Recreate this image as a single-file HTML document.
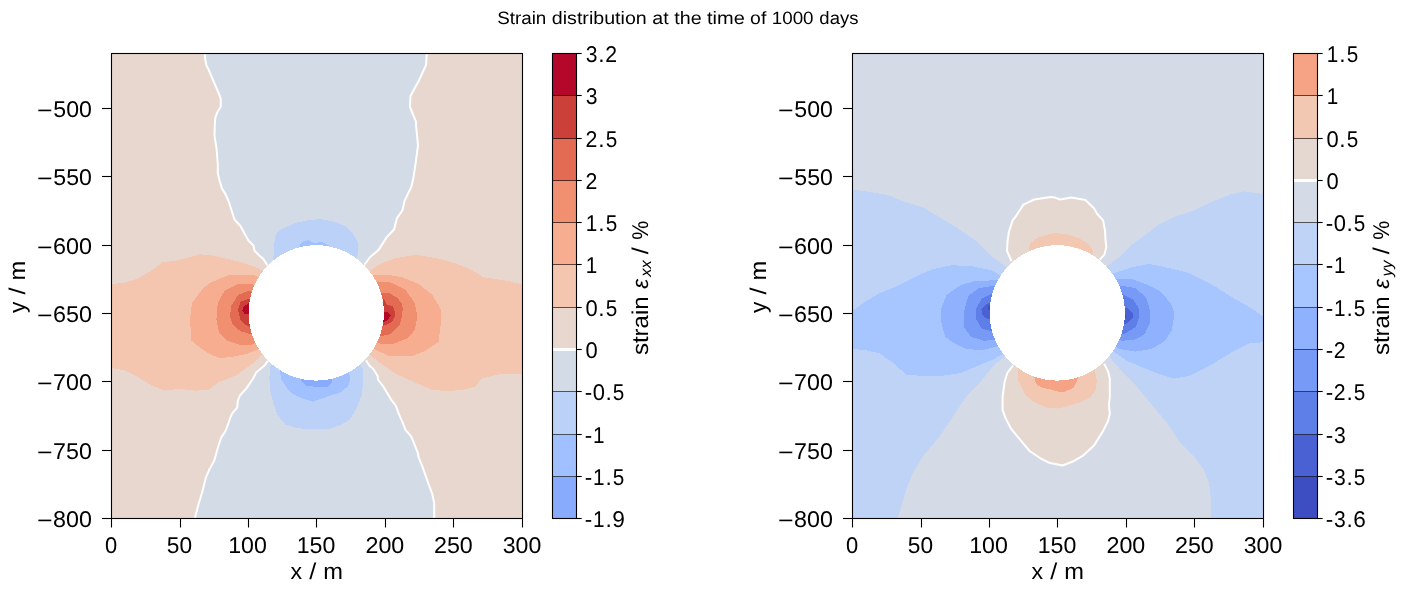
<!DOCTYPE html>
<html><head><meta charset="utf-8"><title>Strain distribution</title>
<style>html,body{margin:0;padding:0;background:#fff;} svg{display:block;will-change:transform;}</style></head>
<body>
<svg width="1409" height="592" viewBox="0 0 1409 592" font-family="Liberation Sans, sans-serif" text-rendering="geometricPrecision">
<rect width="1409" height="592" fill="#fff"/>
<text x="497.16" y="23.50" font-size="17.8" textLength="49.11" lengthAdjust="spacingAndGlyphs">Strain</text><text x="551.81" y="23.50" font-size="17.8" textLength="94.98" lengthAdjust="spacingAndGlyphs">distribution</text><text x="652.27" y="23.50" font-size="17.8" textLength="16.34" lengthAdjust="spacingAndGlyphs">at</text><text x="674.31" y="23.50" font-size="17.8" textLength="27.37" lengthAdjust="spacingAndGlyphs">the</text><text x="707.02" y="23.50" font-size="17.8" textLength="37.77" lengthAdjust="spacingAndGlyphs">time</text><text x="750.13" y="23.50" font-size="17.8" textLength="16.20" lengthAdjust="spacingAndGlyphs">of</text><text x="771.72" y="23.50" font-size="17.8" textLength="41.82" lengthAdjust="spacingAndGlyphs">1000</text><text x="819.38" y="23.50" font-size="17.8" textLength="39.05" lengthAdjust="spacingAndGlyphs">days</text>
<clipPath id="cl1"><rect x="111.5" y="53.5" width="411.0" height="465.0"/></clipPath>
<g clip-path="url(#cl1)">
<rect x="111.5" y="53.5" width="411.0" height="465.0" fill="#e7d7ce"/>
<path d="M204.6,50.0 L204.6,53.0 L205.5,61.0 L206.5,65.5 L208.5,69.5 L219.3,94.6 L220.7,98.6 L220.7,106.8 L217.3,112.2 L215.3,117.6 L214.8,125.0 L214.5,135.8 L216.5,148.0 L217.8,164.2 L217.8,173.6 L219.9,181.8 L221.9,188.5 L225.3,193.9 L228.5,201.0 L230.9,208.3 L234.5,219.5 L240.4,226.0 L248.6,240.8 L253.4,245.5 L254.6,250.8 L259.3,255.6 L263.4,259.1 L267.5,265.5 L316.2,312.9 L364.5,264.5 L370.2,257.0 L378.4,250.1 L386.6,237.4 L394.2,229.2 L396.8,218.4 L402.5,210.2 L404.4,201.3 L408.5,192.6 L411.2,187.2 L413.2,179.0 L415.3,165.5 L418.0,145.3 L416.0,125.0 L416.0,121.6 L413.2,114.9 L409.9,106.8 L410.5,95.9 L419.3,79.7 L426.1,64.9 L426.8,53.0 L426.8,50.0 Z" fill="#d3dbe7" shape-rendering="crispEdges"/>
<path d="M316.2,312.9 L268.0,360.8 L264.2,365.8 L256.1,372.6 L253.4,378.0 L246.6,388.1 L239.9,395.5 L237.8,400.9 L237.2,407.7 L232.4,413.1 L230.4,417.2 L227.7,425.3 L225.5,431.0 L221.2,437.6 L218.1,446.7 L214.3,460.4 L209.0,470.3 L206.0,477.1 L202.2,492.3 L198.4,504.5 L195.3,516.6 L194.9,518.5 L194.9,521.0 L434.2,521.0 L434.2,518.5 L434.2,503.0 L432.2,493.8 L427.7,481.7 L422.4,466.5 L418.6,457.4 L417.8,452.8 L414.8,445.2 L411.0,436.1 L405.6,430.0 L403.2,423.9 L398.5,413.1 L395.8,405.7 L391.1,399.6 L383.0,386.1 L378.2,380.0 L377.6,376.0 L373.5,369.2 L369.5,365.8 L366.0,360.3 Z" fill="#d3dbe7" shape-rendering="crispEdges"/>
<path d="M273.3,259.3 L274.8,238.0 L277.8,231.2 L285.4,227.4 L296.1,222.8 L306.7,220.5 L320.4,219.0 L335.6,222.1 L346.3,226.6 L353.9,235.0 L358.4,244.1 L358.4,251.7 L356.9,257.8 L316.2,312.9 Z" fill="#bbd1f8" shape-rendering="crispEdges"/>
<path d="M299.1,246.4 L302.1,241.8 L308.2,240.3 L314.3,243.3 L320.4,241.8 L325.0,243.3 L329.5,245.6 L316.2,312.9 Z" fill="#a1c0ff" shape-rendering="crispEdges"/>
<path d="M270.2,366.7 L269.4,377.4 L270.2,391.1 L273.3,403.2 L277.8,415.4 L285.4,424.5 L297.6,428.3 L312.8,429.1 L328.0,429.1 L340.2,425.3 L349.3,420.0 L355.4,410.8 L361.5,395.6 L363.3,380.4 L363.0,368.3 L316.2,312.9 Z" fill="#bbd1f8" shape-rendering="crispEdges"/>
<path d="M280.1,370.5 L280.9,378.9 L286.9,388.0 L293.0,394.1 L300.6,397.9 L312.8,401.7 L321.9,398.7 L329.5,395.6 L340.2,392.6 L347.8,386.5 L350.1,380.4 L349.3,372.8 L316.2,312.9 Z" fill="#a1c0ff" shape-rendering="crispEdges"/>
<path d="M300.6,379.7 L306.7,385.7 L312.8,386.5 L320.4,386.5 L328.0,386.5 L332.6,381.9 L316.2,312.9 Z" fill="#88abfd" shape-rendering="crispEdges"/>
<path d="M109.0,284.1 L111.0,284.1 L124.5,282.7 L138.0,278.6 L151.5,270.5 L162.4,262.4 L178.6,260.3 L192.1,256.5 L200.2,254.3 L213.7,255.7 L224.5,258.4 L240.7,261.9 L254.2,266.5 L262.4,270.5 L264.0,272.0 L316.2,312.9 L370.1,270.5 L378.2,265.1 L394.4,258.4 L416.1,254.9 L437.7,258.4 L456.6,263.8 L472.8,270.5 L483.6,277.3 L502.5,280.0 L522.0,284.1 L525.0,284.1 L525.0,374.4 L522.0,374.4 L500.2,373.8 L482.4,378.5 L474.1,387.0 L462.3,390.0 L445.7,391.2 L431.5,389.5 L415.0,382.5 L395.4,373.7 L378.5,361.9 L370.1,355.1 L316.2,312.9 L261.2,355.1 L252.8,363.6 L235.9,375.4 L219.0,382.1 L208.9,389.6 L195.4,390.6 L178.5,388.9 L165.0,390.6 L151.5,385.5 L138.0,377.1 L124.5,370.3 L111.0,368.0 L109.0,368.0 Z" fill="#f4c6af" shape-rendering="crispEdges"/>
<path d="M254.2,274.8 L240.0,275.0 L228.0,275.5 L219.0,279.0 L210.0,283.0 L202.9,288.5 L192.1,303.0 L189.9,319.2 L191.5,340.7 L200.0,347.5 L209.2,353.7 L218.7,357.8 L229.3,357.4 L247.1,353.9 L257.7,349.5 L316.2,312.9 Z" fill="#f7ad90" shape-rendering="crispEdges"/>
<path d="M251.5,284.0 L238.0,284.0 L224.5,290.8 L217.8,303.0 L216.4,319.2 L219.1,332.7 L227.2,340.8 L240.7,344.9 L251.5,344.9 L316.2,312.9 Z" fill="#f18f71" shape-rendering="crispEdges"/>
<path d="M248.8,290.8 L238.0,294.9 L231.3,305.7 L229.9,316.5 L232.6,324.6 L240.7,331.4 L250.2,334.0 L316.2,312.9 Z" fill="#e36b54" shape-rendering="crispEdges"/>
<path d="M248.8,298.9 L240.7,301.6 L238.0,309.7 L240.2,319.2 L244.8,324.6 L249.4,326.8 L316.2,312.9 Z" fill="#cc403a" shape-rendering="crispEdges"/>
<path d="M248.8,303.0 L243.4,307.0 L242.1,311.0 L244.8,313.8 L249.4,314.3 L316.2,312.9 Z" fill="#b5072a" shape-rendering="crispEdges"/>
<path d="M374.2,274.6 L386.3,274.6 L402.5,277.3 L418.8,284.0 L432.3,294.9 L440.4,308.4 L441.5,318.0 L439.5,334.0 L438.6,342.0 L426.0,350.5 L414.0,355.5 L388.0,355.5 L376.0,350.0 L316.2,312.9 Z" fill="#f7ad90" shape-rendering="crispEdges"/>
<path d="M378.2,281.4 L391.7,282.7 L405.2,289.5 L414.7,303.0 L417.4,316.5 L414.7,330.0 L408.0,338.1 L394.4,343.5 L379.6,343.5 L316.2,312.9 Z" fill="#f18f71" shape-rendering="crispEdges"/>
<path d="M381.6,292.9 L389.9,293.4 L397.4,298.0 L402.0,303.6 L402.9,309.1 L401.1,320.3 L400.1,324.0 L394.6,329.6 L389.9,334.2 L381.6,336.1 L316.2,312.9 Z" fill="#e36b54" shape-rendering="crispEdges"/>
<path d="M383.4,298.5 L387.1,304.5 L392.7,306.4 L394.6,311.0 L394.6,316.6 L392.7,321.2 L388.1,324.0 L383.4,325.9 L316.2,312.9 Z" fill="#cc403a" shape-rendering="crispEdges"/>
<path d="M383.4,311.9 L387.1,311.9 L390.9,315.2 L388.1,319.4 L384.4,322.1 L316.2,312.9 Z" fill="#b5072a" shape-rendering="crispEdges"/>
<circle cx="316.2" cy="312.9" r="67.7" fill="#fff" shape-rendering="crispEdges"/>
<path d="M204.6,53.0 L205.5,61.0 L206.5,65.5 L208.5,69.5 L219.3,94.6 L220.7,98.6 L220.7,106.8 L217.3,112.2 L215.3,117.6 L214.8,125.0 L214.5,135.8 L216.5,148.0 L217.8,164.2 L217.8,173.6 L219.9,181.8 L221.9,188.5 L225.3,193.9 L228.5,201.0 L230.9,208.3 L234.5,219.5 L240.4,226.0 L248.6,240.8 L253.4,245.5 L254.6,250.8 L259.3,255.6 L263.4,259.1 L267.5,265.5" fill="none" stroke="#fff" stroke-width="2.0" stroke-linejoin="round"/>
<path d="M364.5,264.5 L370.2,257.0 L378.4,250.1 L386.6,237.4 L394.2,229.2 L396.8,218.4 L402.5,210.2 L404.4,201.3 L408.5,192.6 L411.2,187.2 L413.2,179.0 L415.3,165.5 L418.0,145.3 L416.0,125.0 L416.0,121.6 L413.2,114.9 L409.9,106.8 L410.5,95.9 L419.3,79.7 L426.1,64.9 L426.8,53.0" fill="none" stroke="#fff" stroke-width="2.0" stroke-linejoin="round"/>
<path d="M268.0,360.8 L264.2,365.8 L256.1,372.6 L253.4,378.0 L246.6,388.1 L239.9,395.5 L237.8,400.9 L237.2,407.7 L232.4,413.1 L230.4,417.2 L227.7,425.3 L225.5,431.0 L221.2,437.6 L218.1,446.7 L214.3,460.4 L209.0,470.3 L206.0,477.1 L202.2,492.3 L198.4,504.5 L195.3,516.6 L194.9,518.5" fill="none" stroke="#fff" stroke-width="2.0" stroke-linejoin="round"/>
<path d="M366.0,360.3 L369.5,365.8 L373.5,369.2 L377.6,376.0 L378.2,380.0 L383.0,386.1 L391.1,399.6 L395.8,405.7 L398.5,413.1 L403.2,423.9 L405.6,430.0 L411.0,436.1 L414.8,445.2 L417.8,452.8 L418.6,457.4 L422.4,466.5 L427.7,481.7 L432.2,493.8 L434.2,503.0 L434.2,518.5" fill="none" stroke="#fff" stroke-width="2.0" stroke-linejoin="round"/>
</g>
<rect x="111.5" y="53.5" width="411.0" height="465.0" fill="none" stroke="#000" stroke-width="1.1"/>
<line x1="111.5" y1="518.5" x2="111.5" y2="527.5" stroke="#000" stroke-width="1.1"/>
<text x="104.88" y="552.90" font-size="22.8" textLength="12.21" lengthAdjust="spacingAndGlyphs">0</text>
<line x1="180.5" y1="518.5" x2="180.5" y2="527.5" stroke="#000" stroke-width="1.1"/>
<text x="166.85" y="552.90" font-size="22.8" textLength="25.25" lengthAdjust="spacingAndGlyphs">50</text>
<line x1="248.5" y1="518.5" x2="248.5" y2="527.5" stroke="#000" stroke-width="1.1"/>
<text x="228.22" y="552.90" font-size="22.8" textLength="38.68" lengthAdjust="spacingAndGlyphs">100</text>
<line x1="316.5" y1="518.5" x2="316.5" y2="527.5" stroke="#000" stroke-width="1.1"/>
<text x="296.72" y="552.90" font-size="22.8" textLength="38.68" lengthAdjust="spacingAndGlyphs">150</text>
<line x1="385.5" y1="518.5" x2="385.5" y2="527.5" stroke="#000" stroke-width="1.1"/>
<text x="365.43" y="552.90" font-size="22.8" textLength="38.88" lengthAdjust="spacingAndGlyphs">200</text>
<line x1="453.5" y1="518.5" x2="453.5" y2="527.5" stroke="#000" stroke-width="1.1"/>
<text x="433.93" y="552.90" font-size="22.8" textLength="38.88" lengthAdjust="spacingAndGlyphs">250</text>
<line x1="522.5" y1="518.5" x2="522.5" y2="527.5" stroke="#000" stroke-width="1.1"/>
<text x="502.69" y="552.90" font-size="22.8" textLength="38.56" lengthAdjust="spacingAndGlyphs">300</text>
<line x1="102.0" y1="518.5" x2="111.5" y2="518.5" stroke="#000" stroke-width="1.1"/>
<text x="36.91" y="527.80" font-size="22.8" textLength="15.59" lengthAdjust="spacingAndGlyphs">−</text><text x="53.01" y="527.00" font-size="22.8" textLength="38.88" lengthAdjust="spacingAndGlyphs">800</text>
<line x1="102.0" y1="450.5" x2="111.5" y2="450.5" stroke="#000" stroke-width="1.1"/>
<text x="36.91" y="459.80" font-size="22.8" textLength="15.59" lengthAdjust="spacingAndGlyphs">−</text><text x="53.10" y="459.00" font-size="22.8" textLength="38.78" lengthAdjust="spacingAndGlyphs">750</text>
<line x1="102.0" y1="381.5" x2="111.5" y2="381.5" stroke="#000" stroke-width="1.1"/>
<text x="36.91" y="390.80" font-size="22.8" textLength="15.59" lengthAdjust="spacingAndGlyphs">−</text><text x="53.10" y="390.00" font-size="22.8" textLength="38.78" lengthAdjust="spacingAndGlyphs">700</text>
<line x1="102.0" y1="313.5" x2="111.5" y2="313.5" stroke="#000" stroke-width="1.1"/>
<text x="36.91" y="322.80" font-size="22.8" textLength="15.59" lengthAdjust="spacingAndGlyphs">−</text><text x="52.90" y="322.00" font-size="22.8" textLength="38.99" lengthAdjust="spacingAndGlyphs">650</text>
<line x1="102.0" y1="245.5" x2="111.5" y2="245.5" stroke="#000" stroke-width="1.1"/>
<text x="36.91" y="254.80" font-size="22.8" textLength="15.59" lengthAdjust="spacingAndGlyphs">−</text><text x="52.90" y="254.00" font-size="22.8" textLength="38.99" lengthAdjust="spacingAndGlyphs">600</text>
<line x1="102.0" y1="176.5" x2="111.5" y2="176.5" stroke="#000" stroke-width="1.1"/>
<text x="36.91" y="185.80" font-size="22.8" textLength="15.59" lengthAdjust="spacingAndGlyphs">−</text><text x="53.32" y="185.00" font-size="22.8" textLength="38.56" lengthAdjust="spacingAndGlyphs">550</text>
<line x1="102.0" y1="108.5" x2="111.5" y2="108.5" stroke="#000" stroke-width="1.1"/>
<text x="36.91" y="117.80" font-size="22.8" textLength="15.59" lengthAdjust="spacingAndGlyphs">−</text><text x="53.32" y="117.00" font-size="22.8" textLength="38.56" lengthAdjust="spacingAndGlyphs">500</text>
<text x="290.59" y="578.60" font-size="22.8" textLength="11.61" lengthAdjust="spacingAndGlyphs">x</text><text x="309.22" y="578.60" font-size="22.8" textLength="7.04" lengthAdjust="spacingAndGlyphs">/</text><text x="323.19" y="578.60" font-size="22.8" textLength="19.70" lengthAdjust="spacingAndGlyphs">m</text>
<g transform="translate(25.0,312.8) rotate(-90)"><text x="-0.10" y="0.00" font-size="22.8" textLength="11.30" lengthAdjust="spacingAndGlyphs">y</text><text x="18.32" y="0.00" font-size="22.8" textLength="7.04" lengthAdjust="spacingAndGlyphs">/</text><text x="32.29" y="0.00" font-size="22.8" textLength="19.70" lengthAdjust="spacingAndGlyphs">m</text></g>
<rect x="552.5" y="53.50" width="24.0" height="42.50" fill="#b5072a" shape-rendering="crispEdges"/>
<rect x="552.5" y="95.50" width="24.0" height="43.50" fill="#cc403a" shape-rendering="crispEdges"/>
<rect x="552.5" y="138.50" width="24.0" height="42.50" fill="#e36b54" shape-rendering="crispEdges"/>
<rect x="552.5" y="180.50" width="24.0" height="42.50" fill="#f18f71" shape-rendering="crispEdges"/>
<rect x="552.5" y="222.50" width="24.0" height="42.50" fill="#f7ad90" shape-rendering="crispEdges"/>
<rect x="552.5" y="264.50" width="24.0" height="43.50" fill="#f4c6af" shape-rendering="crispEdges"/>
<rect x="552.5" y="307.50" width="24.0" height="42.50" fill="#e7d7ce" shape-rendering="crispEdges"/>
<rect x="552.5" y="349.50" width="24.0" height="42.50" fill="#d3dbe7" shape-rendering="crispEdges"/>
<rect x="552.5" y="391.50" width="24.0" height="43.50" fill="#bbd1f8" shape-rendering="crispEdges"/>
<rect x="552.5" y="434.50" width="24.0" height="42.50" fill="#a1c0ff" shape-rendering="crispEdges"/>
<rect x="552.5" y="476.50" width="24.0" height="42.50" fill="#88abfd" shape-rendering="crispEdges"/>
<line x1="552.5" y1="95.5" x2="576.5" y2="95.5" stroke="#000" stroke-opacity="0.62" stroke-width="1"/>
<line x1="552.5" y1="138.5" x2="576.5" y2="138.5" stroke="#000" stroke-opacity="0.62" stroke-width="1"/>
<line x1="552.5" y1="180.5" x2="576.5" y2="180.5" stroke="#000" stroke-opacity="0.62" stroke-width="1"/>
<line x1="552.5" y1="222.5" x2="576.5" y2="222.5" stroke="#000" stroke-opacity="0.62" stroke-width="1"/>
<line x1="552.5" y1="264.5" x2="576.5" y2="264.5" stroke="#000" stroke-opacity="0.62" stroke-width="1"/>
<line x1="552.5" y1="307.5" x2="576.5" y2="307.5" stroke="#000" stroke-opacity="0.62" stroke-width="1"/>
<line x1="552.5" y1="349.5" x2="576.5" y2="349.5" stroke="#fff" stroke-width="3"/>
<line x1="552.5" y1="391.5" x2="576.5" y2="391.5" stroke="#000" stroke-opacity="0.62" stroke-width="1"/>
<line x1="552.5" y1="434.5" x2="576.5" y2="434.5" stroke="#000" stroke-opacity="0.62" stroke-width="1"/>
<line x1="552.5" y1="476.5" x2="576.5" y2="476.5" stroke="#000" stroke-opacity="0.62" stroke-width="1"/>
<rect x="552.5" y="53.5" width="24.0" height="465.0" fill="none" stroke="#000" stroke-width="1.1"/>
<line x1="576.5" y1="53.5" x2="581.7" y2="53.5" stroke="#000" stroke-width="1.1"/>
<text x="585.77" y="61.80" font-size="22.8" textLength="11.74" lengthAdjust="spacingAndGlyphs">3</text><text x="598.33" y="61.80" font-size="22.8" textLength="6.33" lengthAdjust="spacingAndGlyphs">.</text><text x="605.32" y="61.80" font-size="22.8" textLength="11.83" lengthAdjust="spacingAndGlyphs">2</text>
<line x1="576.5" y1="95.5" x2="581.7" y2="95.5" stroke="#000" stroke-width="1.1"/>
<text x="585.77" y="103.80" font-size="22.8" textLength="11.74" lengthAdjust="spacingAndGlyphs">3</text>
<line x1="576.5" y1="138.5" x2="581.7" y2="138.5" stroke="#000" stroke-width="1.1"/>
<text x="585.47" y="146.80" font-size="22.8" textLength="11.83" lengthAdjust="spacingAndGlyphs">2</text><text x="598.33" y="146.80" font-size="22.8" textLength="6.33" lengthAdjust="spacingAndGlyphs">.</text><text x="605.63" y="146.80" font-size="22.8" textLength="11.51" lengthAdjust="spacingAndGlyphs">5</text>
<line x1="576.5" y1="180.5" x2="581.7" y2="180.5" stroke="#000" stroke-width="1.1"/>
<text x="585.47" y="188.80" font-size="22.8" textLength="11.83" lengthAdjust="spacingAndGlyphs">2</text>
<line x1="576.5" y1="222.5" x2="581.7" y2="222.5" stroke="#000" stroke-width="1.1"/>
<text x="585.75" y="230.80" font-size="22.8" textLength="11.53" lengthAdjust="spacingAndGlyphs">1</text><text x="598.33" y="230.80" font-size="22.8" textLength="6.33" lengthAdjust="spacingAndGlyphs">.</text><text x="605.63" y="230.80" font-size="22.8" textLength="11.51" lengthAdjust="spacingAndGlyphs">5</text>
<line x1="576.5" y1="264.5" x2="581.7" y2="264.5" stroke="#000" stroke-width="1.1"/>
<text x="585.75" y="272.80" font-size="22.8" textLength="11.53" lengthAdjust="spacingAndGlyphs">1</text>
<line x1="576.5" y1="307.5" x2="581.7" y2="307.5" stroke="#000" stroke-width="1.1"/>
<text x="585.53" y="315.80" font-size="22.8" textLength="12.21" lengthAdjust="spacingAndGlyphs">0</text><text x="598.33" y="315.80" font-size="22.8" textLength="6.33" lengthAdjust="spacingAndGlyphs">.</text><text x="605.63" y="315.80" font-size="22.8" textLength="11.51" lengthAdjust="spacingAndGlyphs">5</text>
<line x1="576.5" y1="349.5" x2="581.7" y2="349.5" stroke="#000" stroke-width="1.1"/>
<text x="585.53" y="357.80" font-size="22.8" textLength="12.21" lengthAdjust="spacingAndGlyphs">0</text>
<line x1="576.5" y1="391.5" x2="581.7" y2="391.5" stroke="#000" stroke-width="1.1"/>
<text x="584.72" y="399.80" font-size="22.8" textLength="7.46" lengthAdjust="spacingAndGlyphs">-</text><text x="592.74" y="399.80" font-size="22.8" textLength="12.21" lengthAdjust="spacingAndGlyphs">0</text><text x="605.54" y="399.80" font-size="22.8" textLength="6.33" lengthAdjust="spacingAndGlyphs">.</text><text x="612.84" y="399.80" font-size="22.8" textLength="11.51" lengthAdjust="spacingAndGlyphs">5</text>
<line x1="576.5" y1="434.5" x2="581.7" y2="434.5" stroke="#000" stroke-width="1.1"/>
<text x="584.72" y="442.80" font-size="22.8" textLength="7.46" lengthAdjust="spacingAndGlyphs">-</text><text x="592.96" y="442.80" font-size="22.8" textLength="11.53" lengthAdjust="spacingAndGlyphs">1</text>
<line x1="576.5" y1="476.5" x2="581.7" y2="476.5" stroke="#000" stroke-width="1.1"/>
<text x="584.72" y="484.80" font-size="22.8" textLength="7.46" lengthAdjust="spacingAndGlyphs">-</text><text x="592.96" y="484.80" font-size="22.8" textLength="11.53" lengthAdjust="spacingAndGlyphs">1</text><text x="605.54" y="484.80" font-size="22.8" textLength="6.33" lengthAdjust="spacingAndGlyphs">.</text><text x="612.84" y="484.80" font-size="22.8" textLength="11.51" lengthAdjust="spacingAndGlyphs">5</text>
<line x1="576.5" y1="518.5" x2="581.7" y2="518.5" stroke="#000" stroke-width="1.1"/>
<text x="584.72" y="526.80" font-size="22.8" textLength="7.46" lengthAdjust="spacingAndGlyphs">-</text><text x="592.96" y="526.80" font-size="22.8" textLength="11.53" lengthAdjust="spacingAndGlyphs">1</text><text x="605.54" y="526.80" font-size="22.8" textLength="6.33" lengthAdjust="spacingAndGlyphs">.</text><text x="612.25" y="526.80" font-size="22.8" textLength="12.68" lengthAdjust="spacingAndGlyphs">9</text>
<g transform="translate(647.6,354.3) rotate(-90)"><text x="-0.74" y="0.00" font-size="22.8" textLength="58.66" lengthAdjust="spacingAndGlyphs">strain</text><text x="65.51" y="0.00" font-size="22.8" textLength="9.82" lengthAdjust="spacingAndGlyphs" font-style="italic">ε</text><text x="77.54" y="3.00" font-size="15.6" textLength="16.54" lengthAdjust="spacingAndGlyphs" font-style="italic">xx</text><text x="100.00" y="0.00" font-size="22.8" textLength="7.04" lengthAdjust="spacingAndGlyphs">/</text><text x="114.45" y="0.00" font-size="22.8" textLength="18.97" lengthAdjust="spacingAndGlyphs">%</text></g>
<clipPath id="cl2"><rect x="852.5" y="53.5" width="411.0" height="465.0"/></clipPath>
<g clip-path="url(#cl2)">
<rect x="852.5" y="53.5" width="411.0" height="465.0" fill="#d4dbe6"/>
<path d="M850.0,189.6 L852.0,189.6 L866.2,191.3 L887.5,194.9 L905.2,202.0 L922.9,207.3 L940.7,218.0 L958.4,228.6 L960.1,230.0 L976.3,240.8 L992.5,257.0 L1003.4,265.1 L1057.2,312.9 L1007.3,355.1 L993.8,365.3 L980.3,382.1 L966.8,395.6 L953.3,415.9 L939.8,436.2 L922.9,456.4 L912.8,473.3 L906.0,490.2 L901.0,507.1 L897.6,518.0 L897.6,521.0 L850.0,521.0 Z" fill="#bfd3f6" shape-rendering="crispEdges"/>
<path d="M1057.2,312.9 L1108.4,265.1 L1119.2,257.0 L1130.0,246.2 L1140.8,238.1 L1151.6,230.0 L1158.4,225.0 L1176.1,216.1 L1193.8,210.8 L1211.6,201.9 L1229.3,194.8 L1243.5,191.3 L1263.0,194.1 L1266.0,194.1 L1266.0,521.0 L1210.7,521.0 L1210.7,518.0 L1210.7,496.9 L1209.0,483.4 L1203.9,469.9 L1193.8,456.4 L1180.3,442.9 L1166.8,422.7 L1149.9,402.4 L1133.0,382.1 L1119.5,368.6 L1107.7,355.1 Z" fill="#bfd3f6" shape-rendering="crispEdges"/>
<path d="M850.0,311.1 L852.0,311.1 L865.5,301.6 L879.0,293.5 L892.5,288.1 L906.1,281.4 L919.6,274.6 L933.1,269.2 L952.0,265.1 L973.6,266.5 L992.5,270.5 L999.3,274.6 L1057.2,312.9 L1002.0,354.3 L992.5,359.7 L976.3,366.5 L960.1,373.2 L941.2,375.9 L922.3,375.9 L906.1,374.6 L892.5,362.4 L879.0,353.0 L865.5,350.3 L852.0,348.9 L850.0,348.9 Z" fill="#a7c5fe" shape-rendering="crispEdges"/>
<path d="M1057.2,312.9 L1113.8,273.2 L1130.0,267.8 L1149.0,263.8 L1167.9,267.8 L1189.5,273.2 L1211.1,284.1 L1232.7,297.6 L1251.6,308.4 L1263.0,316.5 L1266.0,316.5 L1266.0,342.2 L1263.0,342.2 L1248.9,343.5 L1232.7,351.6 L1211.1,365.1 L1189.5,375.9 L1173.3,378.6 L1157.1,373.2 L1143.5,367.8 L1127.3,361.1 L1113.8,351.6 Z" fill="#a7c5fe" shape-rendering="crispEdges"/>
<path d="M998.0,280.0 L973.6,281.4 L960.1,285.4 L946.6,294.9 L941.2,308.4 L941.2,321.9 L945.2,336.8 L954.7,343.5 L965.5,348.9 L981.7,350.3 L998.0,346.2 L1057.2,312.9 Z" fill="#8fb1fe" shape-rendering="crispEdges"/>
<path d="M995.2,285.4 L979.0,288.1 L968.2,296.2 L964.2,311.1 L964.2,327.3 L970.9,336.8 L984.4,340.8 L995.2,339.5 L1057.2,312.9 Z" fill="#779af7" shape-rendering="crispEdges"/>
<path d="M992.5,293.5 L981.7,298.9 L976.3,308.4 L976.3,319.2 L981.7,328.6 L992.5,331.4 L1057.2,312.9 Z" fill="#5f7fe8" shape-rendering="crispEdges"/>
<path d="M990.0,302.5 L985.0,305.0 L981.5,309.5 L982.0,314.5 L985.0,318.0 L989.0,319.0 L1057.2,312.9 Z" fill="#4961d2" shape-rendering="crispEdges"/>
<path d="M990.0,304.5 L988.0,306.0 L988.0,309.5 L990.0,310.5 L1057.2,312.9 Z" fill="#3c4ec2" shape-rendering="crispEdges"/>
<path d="M1116.5,278.6 L1130.0,278.6 L1146.2,284.1 L1159.8,290.8 L1170.6,303.0 L1174.6,313.8 L1171.9,330.0 L1165.2,340.8 L1151.6,348.9 L1135.4,351.6 L1119.2,348.9 L1057.2,312.9 Z" fill="#8fb1fe" shape-rendering="crispEdges"/>
<path d="M1119.2,285.4 L1135.4,288.1 L1146.2,297.6 L1150.3,311.1 L1150.3,321.9 L1144.9,334.0 L1135.4,339.5 L1121.9,340.8 L1057.2,312.9 Z" fill="#779af7" shape-rendering="crispEdges"/>
<path d="M1121.9,294.0 L1133.0,299.5 L1139.3,309.0 L1139.5,316.0 L1136.0,327.0 L1123.3,334.5 L1057.2,312.9 Z" fill="#5f7fe8" shape-rendering="crispEdges"/>
<path d="M1124.5,307.5 L1129.0,309.0 L1132.5,313.0 L1133.0,317.0 L1130.0,321.0 L1125.5,324.0 L1057.2,312.9 Z" fill="#4961d2" shape-rendering="crispEdges"/>
<path d="M1124.8,314.5 L1126.5,316.0 L1125.5,318.5 L1057.2,312.9 Z" fill="#3c4ec2" shape-rendering="crispEdges"/>
<path d="M1011.4,261.0 L1007.0,250.8 L1007.6,240.6 L1008.9,231.8 L1012.7,220.4 L1016.5,215.3 L1023.4,204.6 L1034.2,199.5 L1050.6,197.0 L1055.0,197.6 L1060.1,199.5 L1071.5,197.6 L1085.4,200.1 L1094.2,208.4 L1096.8,213.4 L1103.1,220.4 L1105.0,230.5 L1105.6,240.6 L1106.3,247.0 L1104.4,254.6 L1099.9,259.6 L1057.2,312.9 Z" fill="#e5d8d1" shape-rendering="crispEdges"/>
<path d="M1012.9,365.6 L1007.3,373.0 L1004.5,382.3 L1002.6,397.2 L1002.6,410.2 L1005.4,417.6 L1011.0,428.7 L1020.3,439.9 L1029.6,451.0 L1040.7,458.5 L1050.0,463.1 L1058.0,464.6 L1062.4,465.5 L1073.6,461.2 L1082.9,455.7 L1094.0,445.5 L1103.3,430.6 L1107.9,421.3 L1109.8,413.9 L1108.9,404.6 L1109.8,397.2 L1109.8,378.6 L1107.9,371.1 L1104.2,363.7 L1057.2,312.9 Z" fill="#e5d8d1" shape-rendering="crispEdges"/>
<path d="M1028.5,250.0 L1030.4,243.2 L1038.0,237.5 L1053.2,233.0 L1055.0,233.0 L1067.7,234.3 L1079.1,238.1 L1089.2,244.4 L1092.3,249.5 L1093.0,252.0 L1057.2,312.9 Z" fill="#f3c8b2" shape-rendering="crispEdges"/>
<path d="M1017.5,369.0 L1017.5,371.1 L1018.4,380.4 L1025.9,395.3 L1035.2,402.7 L1046.3,407.4 L1058.0,408.6 L1066.1,406.4 L1079.2,402.7 L1090.3,397.2 L1095.9,389.7 L1096.8,380.4 L1095.0,371.1 L1057.2,312.9 Z" fill="#f3c8b2" shape-rendering="crispEdges"/>
<path d="M1034.2,376.7 L1036.1,384.2 L1042.6,387.9 L1051.9,389.7 L1058.0,391.6 L1062.4,392.5 L1073.6,387.9 L1076.4,382.3 L1078.2,377.6 L1057.2,312.9 Z" fill="#f5a384" shape-rendering="crispEdges"/>
<circle cx="1057.2" cy="312.9" r="67.7" fill="#fff" shape-rendering="crispEdges"/>
<path d="M1011.4,261.0 L1007.0,250.8 L1007.6,240.6 L1008.9,231.8 L1012.7,220.4 L1016.5,215.3 L1023.4,204.6 L1034.2,199.5 L1050.6,197.0 L1055.0,197.6 L1060.1,199.5 L1071.5,197.6 L1085.4,200.1 L1094.2,208.4 L1096.8,213.4 L1103.1,220.4 L1105.0,230.5 L1105.6,240.6 L1106.3,247.0 L1104.4,254.6 L1099.9,259.6" fill="none" stroke="#fff" stroke-width="2.0" stroke-linejoin="round"/>
<path d="M1012.9,365.6 L1007.3,373.0 L1004.5,382.3 L1002.6,397.2 L1002.6,410.2 L1005.4,417.6 L1011.0,428.7 L1020.3,439.9 L1029.6,451.0 L1040.7,458.5 L1050.0,463.1 L1058.0,464.6 L1062.4,465.5 L1073.6,461.2 L1082.9,455.7 L1094.0,445.5 L1103.3,430.6 L1107.9,421.3 L1109.8,413.9 L1108.9,404.6 L1109.8,397.2 L1109.8,378.6 L1107.9,371.1 L1104.2,363.7" fill="none" stroke="#fff" stroke-width="2.0" stroke-linejoin="round"/>
</g>
<rect x="852.5" y="53.5" width="411.0" height="465.0" fill="none" stroke="#000" stroke-width="1.1"/>
<line x1="852.5" y1="518.5" x2="852.5" y2="527.5" stroke="#000" stroke-width="1.1"/>
<text x="845.88" y="552.90" font-size="22.8" textLength="12.21" lengthAdjust="spacingAndGlyphs">0</text>
<line x1="921.5" y1="518.5" x2="921.5" y2="527.5" stroke="#000" stroke-width="1.1"/>
<text x="907.85" y="552.90" font-size="22.8" textLength="25.25" lengthAdjust="spacingAndGlyphs">50</text>
<line x1="989.5" y1="518.5" x2="989.5" y2="527.5" stroke="#000" stroke-width="1.1"/>
<text x="969.22" y="552.90" font-size="22.8" textLength="38.68" lengthAdjust="spacingAndGlyphs">100</text>
<line x1="1057.5" y1="518.5" x2="1057.5" y2="527.5" stroke="#000" stroke-width="1.1"/>
<text x="1037.72" y="552.90" font-size="22.8" textLength="38.68" lengthAdjust="spacingAndGlyphs">150</text>
<line x1="1126.5" y1="518.5" x2="1126.5" y2="527.5" stroke="#000" stroke-width="1.1"/>
<text x="1106.43" y="552.90" font-size="22.8" textLength="38.88" lengthAdjust="spacingAndGlyphs">200</text>
<line x1="1194.5" y1="518.5" x2="1194.5" y2="527.5" stroke="#000" stroke-width="1.1"/>
<text x="1174.93" y="552.90" font-size="22.8" textLength="38.88" lengthAdjust="spacingAndGlyphs">250</text>
<line x1="1263.5" y1="518.5" x2="1263.5" y2="527.5" stroke="#000" stroke-width="1.1"/>
<text x="1243.69" y="552.90" font-size="22.8" textLength="38.56" lengthAdjust="spacingAndGlyphs">300</text>
<line x1="843.0" y1="518.5" x2="852.5" y2="518.5" stroke="#000" stroke-width="1.1"/>
<text x="777.91" y="527.80" font-size="22.8" textLength="15.59" lengthAdjust="spacingAndGlyphs">−</text><text x="794.01" y="527.00" font-size="22.8" textLength="38.88" lengthAdjust="spacingAndGlyphs">800</text>
<line x1="843.0" y1="450.5" x2="852.5" y2="450.5" stroke="#000" stroke-width="1.1"/>
<text x="777.91" y="459.80" font-size="22.8" textLength="15.59" lengthAdjust="spacingAndGlyphs">−</text><text x="794.10" y="459.00" font-size="22.8" textLength="38.78" lengthAdjust="spacingAndGlyphs">750</text>
<line x1="843.0" y1="381.5" x2="852.5" y2="381.5" stroke="#000" stroke-width="1.1"/>
<text x="777.91" y="390.80" font-size="22.8" textLength="15.59" lengthAdjust="spacingAndGlyphs">−</text><text x="794.10" y="390.00" font-size="22.8" textLength="38.78" lengthAdjust="spacingAndGlyphs">700</text>
<line x1="843.0" y1="313.5" x2="852.5" y2="313.5" stroke="#000" stroke-width="1.1"/>
<text x="777.91" y="322.80" font-size="22.8" textLength="15.59" lengthAdjust="spacingAndGlyphs">−</text><text x="793.90" y="322.00" font-size="22.8" textLength="38.99" lengthAdjust="spacingAndGlyphs">650</text>
<line x1="843.0" y1="245.5" x2="852.5" y2="245.5" stroke="#000" stroke-width="1.1"/>
<text x="777.91" y="254.80" font-size="22.8" textLength="15.59" lengthAdjust="spacingAndGlyphs">−</text><text x="793.90" y="254.00" font-size="22.8" textLength="38.99" lengthAdjust="spacingAndGlyphs">600</text>
<line x1="843.0" y1="176.5" x2="852.5" y2="176.5" stroke="#000" stroke-width="1.1"/>
<text x="777.91" y="185.80" font-size="22.8" textLength="15.59" lengthAdjust="spacingAndGlyphs">−</text><text x="794.32" y="185.00" font-size="22.8" textLength="38.56" lengthAdjust="spacingAndGlyphs">550</text>
<line x1="843.0" y1="108.5" x2="852.5" y2="108.5" stroke="#000" stroke-width="1.1"/>
<text x="777.91" y="117.80" font-size="22.8" textLength="15.59" lengthAdjust="spacingAndGlyphs">−</text><text x="794.32" y="117.00" font-size="22.8" textLength="38.56" lengthAdjust="spacingAndGlyphs">500</text>
<text x="1031.59" y="578.60" font-size="22.8" textLength="11.61" lengthAdjust="spacingAndGlyphs">x</text><text x="1050.22" y="578.60" font-size="22.8" textLength="7.04" lengthAdjust="spacingAndGlyphs">/</text><text x="1064.19" y="578.60" font-size="22.8" textLength="19.70" lengthAdjust="spacingAndGlyphs">m</text>
<g transform="translate(766.0,312.8) rotate(-90)"><text x="-0.10" y="0.00" font-size="22.8" textLength="11.30" lengthAdjust="spacingAndGlyphs">y</text><text x="18.32" y="0.00" font-size="22.8" textLength="7.04" lengthAdjust="spacingAndGlyphs">/</text><text x="32.29" y="0.00" font-size="22.8" textLength="19.70" lengthAdjust="spacingAndGlyphs">m</text></g>
<rect x="1293.5" y="53.50" width="24.0" height="42.50" fill="#f5a384" shape-rendering="crispEdges"/>
<rect x="1293.5" y="95.50" width="24.0" height="43.50" fill="#f3c8b2" shape-rendering="crispEdges"/>
<rect x="1293.5" y="138.50" width="24.0" height="42.50" fill="#e5d8d1" shape-rendering="crispEdges"/>
<rect x="1293.5" y="180.50" width="24.0" height="42.50" fill="#d4dbe6" shape-rendering="crispEdges"/>
<rect x="1293.5" y="222.50" width="24.0" height="42.50" fill="#bfd3f6" shape-rendering="crispEdges"/>
<rect x="1293.5" y="264.50" width="24.0" height="43.50" fill="#a7c5fe" shape-rendering="crispEdges"/>
<rect x="1293.5" y="307.50" width="24.0" height="42.50" fill="#8fb1fe" shape-rendering="crispEdges"/>
<rect x="1293.5" y="349.50" width="24.0" height="42.50" fill="#779af7" shape-rendering="crispEdges"/>
<rect x="1293.5" y="391.50" width="24.0" height="43.50" fill="#5f7fe8" shape-rendering="crispEdges"/>
<rect x="1293.5" y="434.50" width="24.0" height="42.50" fill="#4961d2" shape-rendering="crispEdges"/>
<rect x="1293.5" y="476.50" width="24.0" height="42.50" fill="#3c4ec2" shape-rendering="crispEdges"/>
<line x1="1293.5" y1="95.5" x2="1317.5" y2="95.5" stroke="#000" stroke-opacity="0.62" stroke-width="1"/>
<line x1="1293.5" y1="138.5" x2="1317.5" y2="138.5" stroke="#000" stroke-opacity="0.62" stroke-width="1"/>
<line x1="1293.5" y1="180.5" x2="1317.5" y2="180.5" stroke="#fff" stroke-width="3"/>
<line x1="1293.5" y1="222.5" x2="1317.5" y2="222.5" stroke="#000" stroke-opacity="0.62" stroke-width="1"/>
<line x1="1293.5" y1="264.5" x2="1317.5" y2="264.5" stroke="#000" stroke-opacity="0.62" stroke-width="1"/>
<line x1="1293.5" y1="307.5" x2="1317.5" y2="307.5" stroke="#000" stroke-opacity="0.62" stroke-width="1"/>
<line x1="1293.5" y1="349.5" x2="1317.5" y2="349.5" stroke="#000" stroke-opacity="0.62" stroke-width="1"/>
<line x1="1293.5" y1="391.5" x2="1317.5" y2="391.5" stroke="#000" stroke-opacity="0.62" stroke-width="1"/>
<line x1="1293.5" y1="434.5" x2="1317.5" y2="434.5" stroke="#000" stroke-opacity="0.62" stroke-width="1"/>
<line x1="1293.5" y1="476.5" x2="1317.5" y2="476.5" stroke="#000" stroke-opacity="0.62" stroke-width="1"/>
<rect x="1293.5" y="53.5" width="24.0" height="465.0" fill="none" stroke="#000" stroke-width="1.1"/>
<line x1="1317.5" y1="53.5" x2="1322.7" y2="53.5" stroke="#000" stroke-width="1.1"/>
<text x="1326.75" y="61.80" font-size="22.8" textLength="11.53" lengthAdjust="spacingAndGlyphs">1</text><text x="1339.33" y="61.80" font-size="22.8" textLength="6.33" lengthAdjust="spacingAndGlyphs">.</text><text x="1346.63" y="61.80" font-size="22.8" textLength="11.51" lengthAdjust="spacingAndGlyphs">5</text>
<line x1="1317.5" y1="95.5" x2="1322.7" y2="95.5" stroke="#000" stroke-width="1.1"/>
<text x="1326.75" y="103.80" font-size="22.8" textLength="11.53" lengthAdjust="spacingAndGlyphs">1</text>
<line x1="1317.5" y1="138.5" x2="1322.7" y2="138.5" stroke="#000" stroke-width="1.1"/>
<text x="1326.53" y="146.80" font-size="22.8" textLength="12.21" lengthAdjust="spacingAndGlyphs">0</text><text x="1339.33" y="146.80" font-size="22.8" textLength="6.33" lengthAdjust="spacingAndGlyphs">.</text><text x="1346.63" y="146.80" font-size="22.8" textLength="11.51" lengthAdjust="spacingAndGlyphs">5</text>
<line x1="1317.5" y1="180.5" x2="1322.7" y2="180.5" stroke="#000" stroke-width="1.1"/>
<text x="1326.53" y="188.80" font-size="22.8" textLength="12.21" lengthAdjust="spacingAndGlyphs">0</text>
<line x1="1317.5" y1="222.5" x2="1322.7" y2="222.5" stroke="#000" stroke-width="1.1"/>
<text x="1325.72" y="230.80" font-size="22.8" textLength="7.46" lengthAdjust="spacingAndGlyphs">-</text><text x="1333.74" y="230.80" font-size="22.8" textLength="12.21" lengthAdjust="spacingAndGlyphs">0</text><text x="1346.54" y="230.80" font-size="22.8" textLength="6.33" lengthAdjust="spacingAndGlyphs">.</text><text x="1353.84" y="230.80" font-size="22.8" textLength="11.51" lengthAdjust="spacingAndGlyphs">5</text>
<line x1="1317.5" y1="264.5" x2="1322.7" y2="264.5" stroke="#000" stroke-width="1.1"/>
<text x="1325.72" y="272.80" font-size="22.8" textLength="7.46" lengthAdjust="spacingAndGlyphs">-</text><text x="1333.96" y="272.80" font-size="22.8" textLength="11.53" lengthAdjust="spacingAndGlyphs">1</text>
<line x1="1317.5" y1="307.5" x2="1322.7" y2="307.5" stroke="#000" stroke-width="1.1"/>
<text x="1325.72" y="315.80" font-size="22.8" textLength="7.46" lengthAdjust="spacingAndGlyphs">-</text><text x="1333.96" y="315.80" font-size="22.8" textLength="11.53" lengthAdjust="spacingAndGlyphs">1</text><text x="1346.54" y="315.80" font-size="22.8" textLength="6.33" lengthAdjust="spacingAndGlyphs">.</text><text x="1353.84" y="315.80" font-size="22.8" textLength="11.51" lengthAdjust="spacingAndGlyphs">5</text>
<line x1="1317.5" y1="349.5" x2="1322.7" y2="349.5" stroke="#000" stroke-width="1.1"/>
<text x="1325.72" y="357.80" font-size="22.8" textLength="7.46" lengthAdjust="spacingAndGlyphs">-</text><text x="1333.68" y="357.80" font-size="22.8" textLength="11.83" lengthAdjust="spacingAndGlyphs">2</text>
<line x1="1317.5" y1="391.5" x2="1322.7" y2="391.5" stroke="#000" stroke-width="1.1"/>
<text x="1325.72" y="399.80" font-size="22.8" textLength="7.46" lengthAdjust="spacingAndGlyphs">-</text><text x="1333.68" y="399.80" font-size="22.8" textLength="11.83" lengthAdjust="spacingAndGlyphs">2</text><text x="1346.54" y="399.80" font-size="22.8" textLength="6.33" lengthAdjust="spacingAndGlyphs">.</text><text x="1353.84" y="399.80" font-size="22.8" textLength="11.51" lengthAdjust="spacingAndGlyphs">5</text>
<line x1="1317.5" y1="434.5" x2="1322.7" y2="434.5" stroke="#000" stroke-width="1.1"/>
<text x="1325.72" y="442.80" font-size="22.8" textLength="7.46" lengthAdjust="spacingAndGlyphs">-</text><text x="1333.97" y="442.80" font-size="22.8" textLength="11.74" lengthAdjust="spacingAndGlyphs">3</text>
<line x1="1317.5" y1="476.5" x2="1322.7" y2="476.5" stroke="#000" stroke-width="1.1"/>
<text x="1325.72" y="484.80" font-size="22.8" textLength="7.46" lengthAdjust="spacingAndGlyphs">-</text><text x="1333.97" y="484.80" font-size="22.8" textLength="11.74" lengthAdjust="spacingAndGlyphs">3</text><text x="1346.54" y="484.80" font-size="22.8" textLength="6.33" lengthAdjust="spacingAndGlyphs">.</text><text x="1353.84" y="484.80" font-size="22.8" textLength="11.51" lengthAdjust="spacingAndGlyphs">5</text>
<line x1="1317.5" y1="518.5" x2="1322.7" y2="518.5" stroke="#000" stroke-width="1.1"/>
<text x="1325.72" y="526.80" font-size="22.8" textLength="7.46" lengthAdjust="spacingAndGlyphs">-</text><text x="1333.97" y="526.80" font-size="22.8" textLength="11.74" lengthAdjust="spacingAndGlyphs">3</text><text x="1346.54" y="526.80" font-size="22.8" textLength="6.33" lengthAdjust="spacingAndGlyphs">.</text><text x="1353.36" y="526.80" font-size="22.8" textLength="12.56" lengthAdjust="spacingAndGlyphs">6</text>
<g transform="translate(1388.6,354.3) rotate(-90)"><text x="-0.74" y="0.00" font-size="22.8" textLength="58.66" lengthAdjust="spacingAndGlyphs">strain</text><text x="65.51" y="0.00" font-size="22.8" textLength="9.82" lengthAdjust="spacingAndGlyphs" font-style="italic">ε</text><text x="77.83" y="3.00" font-size="15.6" textLength="16.05" lengthAdjust="spacingAndGlyphs" font-style="italic">yy</text><text x="100.00" y="0.00" font-size="22.8" textLength="7.04" lengthAdjust="spacingAndGlyphs">/</text><text x="114.45" y="0.00" font-size="22.8" textLength="18.97" lengthAdjust="spacingAndGlyphs">%</text></g>
</svg>
</body></html>
